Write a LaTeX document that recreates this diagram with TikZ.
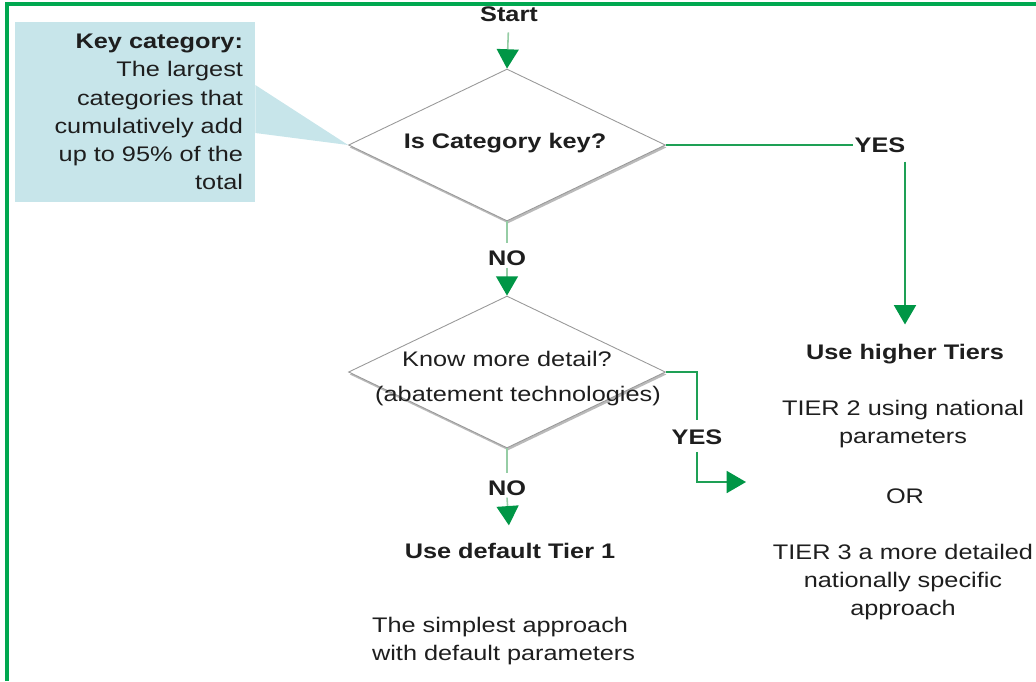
\documentclass[tikz,border=0pt]{standalone}
\usepackage{fontspec}
\setmainfont{Liberation Sans}[FakeStretch=1.2]
\usetikzlibrary{arrows.meta,shapes.geometric,shadows}

\definecolor{framegreen}{RGB}{0,168,80}
\definecolor{headgreen}{RGB}{0,150,70}
\definecolor{shaftgreen}{RGB}{150,205,165}
\definecolor{yesgreen}{RGB}{30,160,85}
\definecolor{keyblue}{RGB}{199,229,234}
\definecolor{inkgrey}{RGB}{30,30,30}

\tikzset{
	txt/.style={text=inkgrey, font=\fontsize{12}{16}\selectfont, inner sep=1pt, align=center},
	btxt/.style={txt, font=\fontsize{12}{16}\selectfont\bfseries},
	keybox/.style={txt, fill=keyblue, minimum width=4.8cm, minimum height=3.6cm, text width=4.32cm, inner xsep=0.24cm, align=right},
	decision/.style={diamond, draw=black!40, line width=0.5pt, fill=white, minimum width=6.34cm, minimum height=3.04cm, inner sep=0pt, drop shadow={shadow xshift=0.6pt, shadow yshift=-1.4pt, opacity=0.45, fill=black!60}},
	faint/.style={draw=shaftgreen, line width=0.9pt},
	yesline/.style={draw=yesgreen, line width=1.1pt},
	tip/.style={-{Triangle[width=12.5pt,length=11pt,color=headgreen]}}
}

\begin{document}
\begin{tikzpicture}[x=0.02cm, y=-0.02cm]
		%%%%% START %%%%%
		\useasboundingbox (0,0) rectangle (1036,681);
		
		% frame, cut off right and bottom
		\draw[framegreen, line width=2.4pt] (7,681) -- (7,4) -- (1036,4);
		
		% first question
		\node[btxt] (start) at (509,14) {Start};
		\node[decision] (d1) at (507,145) {};
		\node[btxt] (q1) at (505,143) {Is Category key?};
		\draw[faint, tip, shorten <=5pt] (start) -- (d1.north);
		
		% note on the left
		\node[keybox] (key) at (135,112) {\textbf{Key category:}\\The largest\\categories that\\cumulatively add\\up to 95\% of the\\total};
		\fill[keyblue] ([yshift=0.54cm]key.east) -- (d1.west) -- ([yshift=-0.42cm]key.east) -- cycle;
		
		% yes branch
		\node[btxt] (yes1) at (880,145) {YES};
		\node[btxt] (higher) at (905,354) {Use higher Tiers};
		\node[txt] (tier2) at (903,424) {TIER 2 using national\\parameters};
		\node[txt] (orword) at (905,496) {OR};
		\node[txt] (tier3) at (903,582) {TIER 3 a more detailed\\nationally specific\\approach};
		\draw[yesline] (d1.east) -- (yes1.west);
		\draw[yesline, tip, shorten <=4pt, shorten >=10pt] (yes1.south -| higher.north) -- (higher.north);
		
		% second question
		\node[btxt] (no1) at (507,258) {NO};
		\node[decision] (d2) at (507,372) {};
		\node[txt] (q2a) at (507,359) {Know more detail?};
		\node[txt] (q2b) at (518,396) {(abatement technologies)};
		\draw[faint, shorten >=3pt] (d1.south) -- (no1.north);
		\draw[faint, tip] (no1.south) -- (d2.north);
		
		\node[btxt] (yes2) at (697,437) {YES};
		\coordinate (tip2) at (746,482);
		\draw[yesline, shorten >=4pt] (d2.east) -| (yes2.north);
		\draw[yesline, tip, shorten <=3pt] (yes2.south) |- (tip2);
		
		% no branch
		\node[btxt] (no2) at (507,488) {NO};
		\node[btxt] (default) at (510,551) {Use default Tier 1};
		\node[txt, anchor=west, align=left] (simplest) at (370,641) {The simplest approach\\with default parameters};
		\draw[faint, shorten >=3pt] (d2.south) -- (no2.north);
		\draw[faint, tip, shorten >=9pt] (no2.south) -- (default.north);
		
		%%%%% END %%%%%
\end{tikzpicture}
\end{document}
